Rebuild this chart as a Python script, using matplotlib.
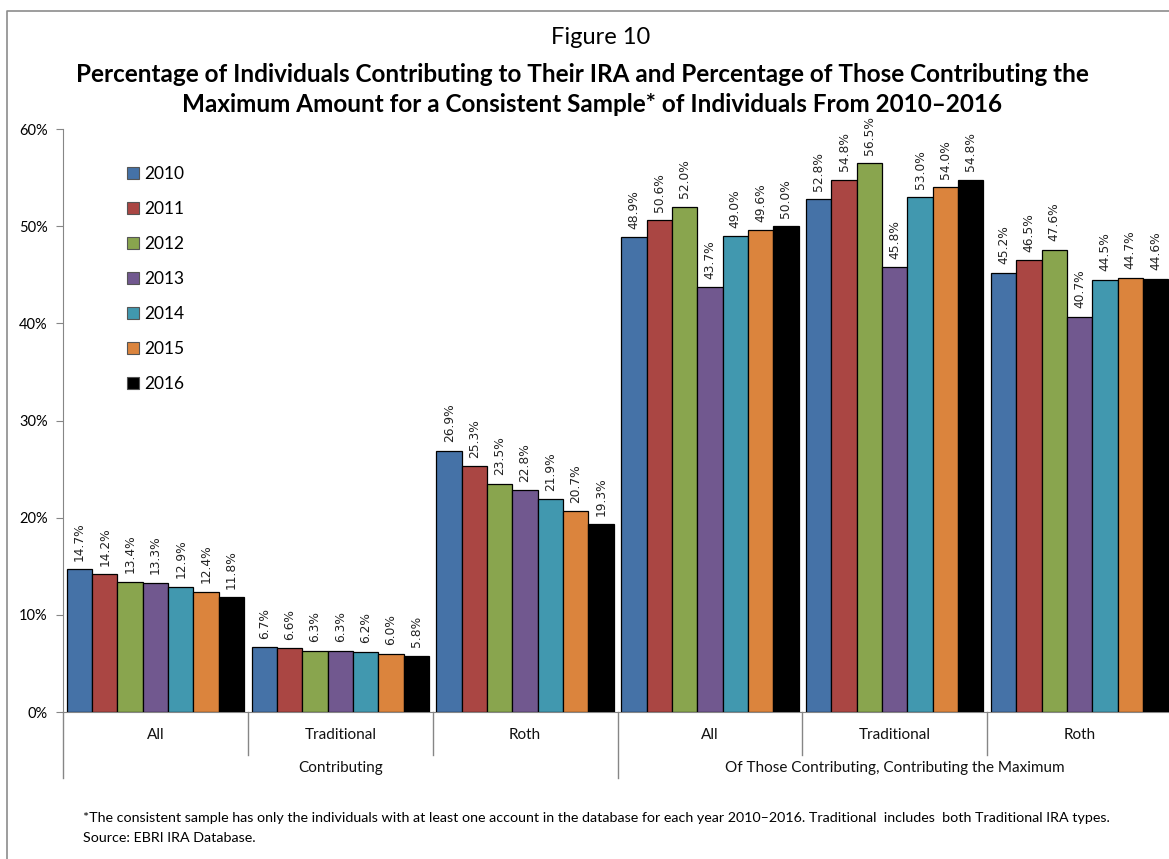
import matplotlib
matplotlib.use("Agg")
import matplotlib.pyplot as plt
from matplotlib.lines import Line2D
from matplotlib.patches import Patch
import numpy as np

# ── data ──
years = ["2010", "2011", "2012", "2013", "2014", "2015", "2016"]
groups = ["All", "Traditional", "Roth", "All", "Traditional", "Roth"]
sections = ["Contributing", "Of Those Contributing, Contributing the Maximum"]

pct_2010 = [14.7, 6.7, 26.9, 48.9, 52.8, 45.2]
pct_2011 = [14.2, 6.6, 25.3, 50.6, 54.8, 46.5]
pct_2012 = [13.4, 6.3, 23.5, 52.0, 56.5, 47.6]
pct_2013 = [13.3, 6.3, 22.8, 43.7, 45.8, 40.7]
pct_2014 = [12.9, 6.2, 21.9, 49.0, 53.0, 44.5]
pct_2015 = [12.4, 6.0, 20.7, 49.6, 54.0, 44.7]
pct_2016 = [11.8, 5.8, 19.3, 50.0, 54.8, 44.6]
series = [pct_2010, pct_2011, pct_2012, pct_2013, pct_2014, pct_2015, pct_2016]

colors = ["#4572A7", "#AA4643", "#89A54E", "#71588F", "#4198AF", "#DB843D", "#000000"]

FONT = "Lato"
GRAY = "#868686"

fig = plt.figure(figsize=(11.69, 8.59), dpi=100)
ax = fig.add_axes([0.0539, 0.1711, 0.9487, 0.6787])

x = np.arange(len(groups))
w = 0.137
for k, (vals, c) in enumerate(zip(series, colors)):
    xs = x + (k - 3) * w
    ax.bar(xs, vals, width=w, color=c, edgecolor="black", linewidth=0.9, zorder=3)
    for xi, v in zip(xs, vals):
        ax.annotate(f"{v:.1f}%", (xi, v), xytext=(0, 6), textcoords="offset points",
                    rotation=90, ha="center", va="bottom", fontsize=8.8,
                    family="DejaVu Sans", color="#222222")

ax.set_xlim(-0.5, 5.5)
ax.set_ylim(0, 60)
ax.set_yticks(range(0, 61, 10))
ax.set_yticklabels([f"{t}%" for t in range(0, 61, 10)], family=FONT, fontsize=10.5)
ax.set_xticks([])
ax.tick_params(axis="y", direction="out", length=5, color=GRAY, pad=6)
for s in ("top", "right"):
    ax.spines[s].set_visible(False)
ax.spines["left"].set_color(GRAY)
ax.spines["bottom"].set_color(GRAY)

# two-level category axis: separators + labels
tr = ax.get_xaxis_transform()
for b in np.arange(-0.5, 6.0, 1.0):
    depth = -0.113 if b in (-0.5, 2.5, 5.5) else -0.074
    ax.plot([b, b], [0, depth], transform=tr, color=GRAY, lw=1, clip_on=False)
for xi, g in zip(x, groups):
    ax.text(xi, -0.039, g, transform=tr, ha="center", va="center",
            family=FONT, fontsize=11, color="#111111")
for i, s in enumerate(sections):
    ax.text(3 * i + 1, -0.096, s, transform=tr, ha="center", va="center",
            family=FONT, fontsize=11, color="#111111")

handles = [Patch(facecolor=c, edgecolor="#555555", linewidth=0.8) for c in colors]
ax.legend(handles, years, loc="upper left", bbox_to_anchor=(0.058, 0.937),
          frameon=False, borderpad=0, borderaxespad=0, handlelength=0.7,
          handleheight=0.7, handletextpad=0.3, labelspacing=1.1,
          prop={"family": FONT, "size": 12.5})

# titles
fig.text(0.514, 1 - 37 / 859, "Figure 10", ha="center", va="center",
         family=FONT, fontsize=17)
fig.text(0.498, 1 - 75 / 859,
         "Percentage of Individuals Contributing to Their IRA and Percentage of Those Contributing the",
         ha="center", va="center", family=FONT, fontsize=17.5, fontweight="bold")
fig.text(0.506, 1 - 105 / 859,
         "Maximum Amount for a Consistent Sample* of Individuals From 2010\u20132016",
         ha="center", va="center", family=FONT, fontsize=17.5, fontweight="bold")

# footnote
fig.text(83 / 1169, 1 - 818 / 859,
         "*The consistent sample has only the individuals with at least one account in the database "
         "for each year 2010\u20132016. Traditional  includes  both Traditional IRA types.",
         ha="left", va="center", family=FONT, fontsize=10.25)
fig.text(83 / 1169, 1 - 838 / 859, "Source: EBRI IRA Database.",
         ha="left", va="center", family=FONT, fontsize=10.25)

# frame (top and left edges)
fig.add_artist(Line2D([7 / 1169, 7 / 1169, 1.0], [0.0, 1 - 11 / 859, 1 - 11 / 859],
                      transform=fig.transFigure, color="#8c8c8c", lw=1.2))

fig.savefig("out.png", dpi=100, facecolor="white")
